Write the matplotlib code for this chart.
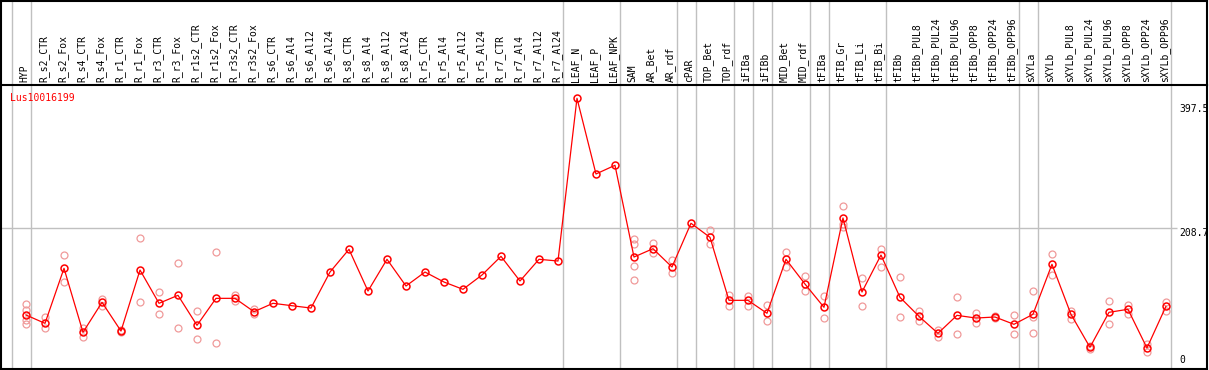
import matplotlib
matplotlib.use("Agg")
import matplotlib.pyplot as plt
import matplotlib.transforms as mtransforms

# sample names (one column each)
samples = ["HYP", "R_s2_CTR", "R_s2_Fox", "R_s4_CTR", "R_s4_Fox", "R_r1_CTR", "R_r1_Fox",
           "R_r3_CTR", "R_r3_Fox", "R_r1s2_CTR", "R_r1s2_Fox", "R_r3s2_CTR", "R_r3s2_Fox",
           "R_s6_CTR", "R_s6_Al4", "R_s6_Al12", "R_s6_Al24", "R_s8_CTR", "R_s8_Al4",
           "R_s8_Al12", "R_s8_Al24", "R_r5_CTR", "R_r5_Al4", "R_r5_Al12", "R_r5_Al24",
           "R_r7_CTR", "R_r7_Al4", "R_r7_Al12", "R_r7_Al24", "LEAF_N", "LEAF_P", "LEAF_NPK",
           "SAM", "AR_Bet", "AR_rdf", "cPAR", "TOP_Bet", "TOP_rdf", "iFIBa", "iFIBb",
           "MID_Bet", "MID_rdf", "tFIBa", "tFIB_Gr", "tFIB_Li", "tFIB_Bi", "tFIBb",
           "tFIBb_PUL8", "tFIBb_PUL24", "tFIBb_PUL96", "tFIBb_OPP8", "tFIBb_OPP24",
           "tFIBb_OPP96", "sXYLa", "sXYLb", "sXYLb_PUL8", "sXYLb_PUL24", "sXYLb_PUL96",
           "sXYLb_OPP8", "sXYLb_OPP24", "sXYLb_OPP96"]

# mean expression per sample
means = [82.8, 70.7, 150.6, 57.7, 101.2, 59.5, 148.1, 99.8, 111.4, 67.8, 107.0, 107.0, 87.6,
         99.8, 96.3, 92.9, 145.2, 178.2, 117.6, 163.7, 124.9, 145.2, 130.7, 120.1, 140.9,
         168.0, 132.2, 163.7, 161.2, 397.5, 287.6, 300.2,
         167.0, 179.1, 152.5, 216.0, 195.6, 104.1, 104.1, 85.3, 163.7, 127.8, 94.0,
         223.7, 116.2, 169.9, 108.5, 80.9, 56.2, 82.3, 78.4, 79.9, 69.3, 83.8,
         156.4, 83.8, 35.9, 86.7, 91.1, 34.9, 95.4]

# replicate values per sample (empty where they sit under the mean)
replicates = [[98.8, 90.0, 75.5, 69.7], [80.3, 63.5], [169.9, 131.1], [64.3, 50.4],
              [105.6, 95.9], [61.0, 58.1], [194.2, 101.7], [115.7, 83.8], [157.9, 63.9],
              [88.2, 47.5], [173.8, 41.7], [111.8, 103.1], [91.5, 84.2],
              [], [], [], [], [], [], [], [], [], [], [], [], [], [], [], [],
              [], [], [],
              [192.7, 185.9, 154.4, 133.2], [187.8, 172.8], [162.7, 143.3], [],
              [205.8, 186.3], [111.8, 96.3], [110.4, 96.3], [96.9, 73.6], [173.8, 152.1],
              [139.0, 117.2], [109.9, 78.4], [240.6, 214.5, 211.0], [136.1, 95.4],
              [178.6, 152.1], [137.5, 79.4], [89.0, 73.6], [61.4, 51.3], [108.5, 54.8],
              [86.1, 70.7], [81.8, 78.0], [82.3, 54.8], [117.6, 79.4, 56.2],
              [171.4, 141.3], [89.0, 77.4], [38.5, 33.4], [103.1, 69.3], [97.3, 84.7],
              [40.7, 29.5], [102.1, 89.0]]

# last sample index of each group
group_ends = [-1, 0, 28, 31, 34, 35, 37, 38, 39, 41, 42, 45, 52, 53, 60]

gene = "Lus10016199"
max_val = 397.5
mid_val = 208.7

W, H = 1209, 370
fig = plt.figure(figsize=(W / 100, H / 100), dpi=100)

font = "DejaVu Sans Mono"
fs = 7
red = "#ff0000"
pale = "#f09a9a"
grey = "#c0c0c0"

left, right = 1 / W, 1207 / W
ax = fig.add_axes([left, 1 / H, right - left, 284 / H])
hdr = fig.add_axes([left, 285 / H, right - left, 84 / H], sharex=ax)

x = list(range(len(samples)))
ax.set_xlim(-1.316, 62.16)
ax.set_ylim(4.4, 416.8)

for e in group_ends:
    for a in (ax, hdr):
        a.axvline(e + 0.24, color=grey, lw=1, zorder=0)
ax.hlines(mid_val, -1.316, 60.58, color=grey, lw=1, zorder=0)

# replicates
for i, reps in enumerate(replicates):
    if reps:
        ax.plot([i] * len(reps), reps, "o", ms=5, mfc="none", mec=pale, mew=0.9, zorder=2)

ax.plot(x, means, "-", color=red, lw=0.9, zorder=3)
ax.plot(x, means, "o", ms=5, mfc="none", mec=red, mew=1.1, zorder=4)

ax.text(9 / 1206, (369 - 98) / 284, gene, transform=ax.transAxes, color=red,
        fontsize=fs, family=font, va="center", ha="left")

xl = (1179 - 26) / 19
ax.annotate(f"{max_val}", xy=(xl, max_val), xytext=(0, -4.2), textcoords="offset points",
            va="top", ha="left", fontsize=fs, family=font, annotation_clip=False)
ax.annotate(f"{mid_val}", xy=(xl, mid_val), xytext=(0, 0), textcoords="offset points",
            va="top", ha="left", fontsize=fs, family=font, annotation_clip=False)
ax.annotate("0", xy=(xl, 0), xytext=(0, 5.4), textcoords="offset points",
            va="bottom", ha="left", fontsize=fs, family=font, annotation_clip=False)

# header labels
trans = mtransforms.blended_transform_factory(hdr.transData, hdr.transAxes)
for i, s in enumerate(samples):
    hdr.text(i - 0.08, 2.5 / 84, s, transform=trans, rotation=90, ha="center", va="bottom",
             fontsize=fs, family=font)

for a in (ax, hdr):
    a.set_xticks([])
    a.set_yticks([])
    for sp in a.spines.values():
        sp.set_linewidth(1.5)
ax.spines["top"].set_visible(False)
hdr.set_ylim(0, 1)

fig.savefig("out.png", dpi=100)
